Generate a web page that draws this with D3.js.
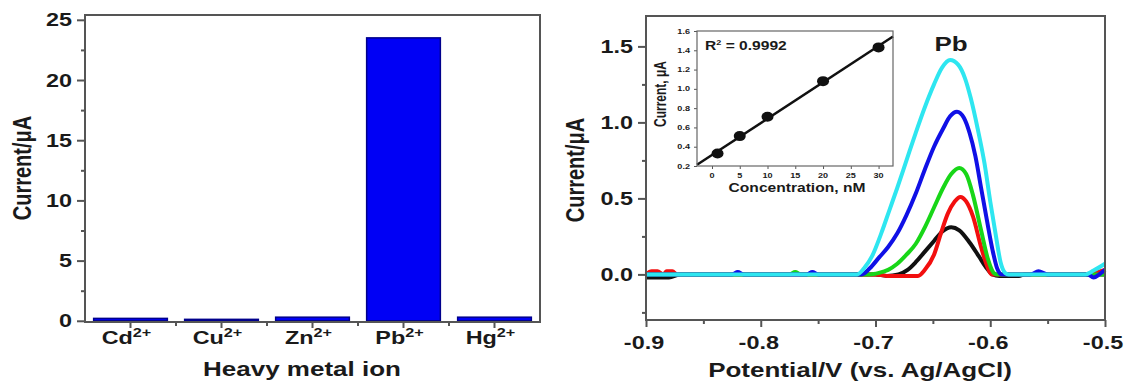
<!DOCTYPE html>
<html>
<head>
<meta charset="utf-8">
<script src="https://cdn.jsdelivr.net/npm/d3@7"></script>
<style>
body { margin: 0; background: #fff; }
svg { display: block; font-family: "Liberation Sans", Arial, sans-serif; }
</style>
</head>
<body>
<svg id="chart" width="1141" height="385"></svg>
<script>
// ---- left panel: selectivity bars
var ions = ["Cd", "Cu", "Zn", "Pb", "Hg"];
var ionCurrent = [0.2, 0.12, 0.3, 23.5, 0.3];
var barTicks = [0, 5, 10, 15, 20, 25];
var barMinor = [2.5, 7.5, 12.5, 17.5, 22.5];

// ---- right panel: DPV curves, [potential V, current uA]
var potTicks = [-0.9, -0.8, -0.7, -0.6, -0.5];
var potMinor = [-0.85, -0.75, -0.65, -0.55];
var curTicks = [0.0, 0.5, 1.0, 1.5];
var curMinor = [-0.25, 0.25, 0.75, 1.25];

var dpvBlack = [[-0.9,-0.02],[-0.88,-0.02],[-0.87,0],[-0.70,0],[-0.69,-0.01],[-0.68,0],[-0.672,0.03],[-0.665,0.08],[-0.657,0.15],[-0.649,0.22],[-0.642,0.28],[-0.634,0.31],[-0.627,0.29],[-0.618,0.21],[-0.61,0.12],[-0.604,0.05],[-0.598,0],[-0.592,-0.01],[-0.575,-0.01],[-0.57,0],[-0.5,0]];
var dpvRed = [[-0.9,0],[-0.895,0.02],[-0.89,0.02],[-0.885,0],[-0.882,0.02],[-0.877,0.02],[-0.873,0],[-0.70,0],[-0.69,-0.01],[-0.663,-0.01],[-0.657,0.03],[-0.649,0.13],[-0.643,0.27],[-0.637,0.40],[-0.631,0.48],[-0.626,0.51],[-0.621,0.48],[-0.615,0.38],[-0.608,0.18],[-0.603,0.06],[-0.599,0],[-0.52,0],[-0.51,0.01],[-0.5,0.03]];
var dpvGreen = [[-0.9,0],[-0.775,0],[-0.77,0.015],[-0.765,0],[-0.705,0],[-0.697,0.01],[-0.689,0.03],[-0.681,0.07],[-0.673,0.13],[-0.665,0.2],[-0.657,0.31],[-0.649,0.44],[-0.641,0.57],[-0.634,0.66],[-0.627,0.70],[-0.621,0.66],[-0.615,0.52],[-0.608,0.29],[-0.602,0.1],[-0.597,0.01],[-0.594,0],[-0.5,0]];
var dpvBlue = [[-0.9,0],[-0.825,0],[-0.82,0.015],[-0.815,0],[-0.76,0],[-0.755,0.015],[-0.75,0],[-0.712,0],[-0.705,0.04],[-0.697,0.11],[-0.689,0.18],[-0.681,0.27],[-0.673,0.39],[-0.665,0.53],[-0.657,0.69],[-0.649,0.84],[-0.641,0.96],[-0.635,1.04],[-0.629,1.07],[-0.623,1.03],[-0.618,0.93],[-0.613,0.78],[-0.608,0.57],[-0.603,0.36],[-0.598,0.16],[-0.594,0.04],[-0.59,0],[-0.565,0],[-0.558,0.02],[-0.55,0],[-0.515,0],[-0.51,-0.02],[-0.505,0],[-0.5,0.03]];
var dpvCyan = [[-0.9,0],[-0.716,0],[-0.71,0.04],[-0.703,0.12],[-0.695,0.27],[-0.688,0.42],[-0.681,0.57],[-0.673,0.75],[-0.665,0.93],[-0.657,1.1],[-0.649,1.25],[-0.642,1.36],[-0.635,1.41],[-0.628,1.38],[-0.622,1.29],[-0.617,1.16],[-0.611,0.96],[-0.605,0.73],[-0.6,0.48],[-0.595,0.25],[-0.591,0.08],[-0.587,0.01],[-0.584,0],[-0.517,0],[-0.51,0.025],[-0.5,0.07]];

// ---- inset: calibration
var concentration = [1, 5, 10, 20, 30];
var peakCurrent = [0.33, 0.51, 0.71, 1.08, 1.43];
var insetXTicks = [0, 5, 10, 15, 20, 25, 30];
var insetYTicks = [0.2, 0.4, 0.6, 0.8, 1.0, 1.2, 1.4, 1.6];

var SX = 1.3; // the picture is stretched sideways
var ink = "#1a1a1a", frame = "#555";

var svg = d3.select("#chart");

// text helper, stretched like the original
function stext(g, x, y, str, size, anchor, weight) {
  return g.append("text")
    .attr("transform", "translate(" + x + "," + y + ") scale(" + SX + ",1)")
    .attr("text-anchor", anchor || "middle")
    .attr("font-size", size)
    .attr("font-weight", weight || "bold")
    .attr("fill", ink)
    .text(str);
}
function vtext(g, x, y, str, size, weight) {
  return g.append("text")
    .attr("transform", "translate(" + x + "," + y + ") rotate(-90) scale(1," + SX + ")")
    .attr("text-anchor", "middle")
    .attr("font-size", size)
    .attr("font-weight", weight || "bold")
    .attr("fill", ink)
    .text(str);
}
function styleAxis(g, w) {
  g.selectAll("path").remove();
  g.selectAll("line").attr("stroke", frame).attr("stroke-width", w || 2);
}
function frameBox(g, x0, y0, x1, y1, col, w) {
  g.append("rect").attr("x", x0).attr("y", y0)
    .attr("width", x1 - x0).attr("height", y1 - y0)
    .attr("fill", "none").attr("stroke", col).attr("stroke-width", w);
}
function fmt1(t) { return t.toFixed(1); } // plain hyphen minus, like the original

// ================= left panel
var L = {x0: 85, x1: 540, y0: 15, y1: 322};
var xb = d3.scaleBand().domain(ions).range([L.x0, L.x1]).paddingInner(0.19).paddingOuter(0.095);
var yb = d3.scaleLinear().domain([-0.1, 25.4]).range([L.y1, L.y0]);

var left = svg.append("g");

left.append("g").selectAll("rect")
  .data(ions)
  .join("rect")
  .attr("x", d => xb(d))
  .attr("width", xb.bandwidth())
  .attr("y", (d, i) => yb(ionCurrent[i]))
  .attr("height", (d, i) => yb(0) - yb(ionCurrent[i]))
  .attr("fill", "#0000f5")
  .attr("stroke", "#00008c")
  .attr("stroke-width", 1.5);

var ylAx = left.append("g").attr("transform", "translate(" + L.x0 + ",0)")
  .call(d3.axisLeft(yb).tickValues(barTicks).tickSize(8).tickFormat(""));
styleAxis(ylAx);
var ylMin = left.append("g").attr("transform", "translate(" + L.x0 + ",0)")
  .call(d3.axisLeft(yb).tickValues(barMinor).tickSize(4).tickFormat(""));
styleAxis(ylMin);
barTicks.forEach(function (t) { stext(left, 72, yb(t) + 6.5, t, 18, "end"); });

var xlAx = left.append("g").attr("transform", "translate(0," + L.y1 + ")")
  .call(d3.axisBottom(xb).tickSize(6).tickFormat(""));
styleAxis(xlAx);
// small marks between the bars
var bounds = ions.slice(1).map(d => xb(d) - xb.step() * xb.paddingInner() / 2);
left.append("g").selectAll("line").data(bounds).join("line")
  .attr("x1", d => d).attr("x2", d => d)
  .attr("y1", L.y1).attr("y2", L.y1 + 4)
  .attr("stroke", frame).attr("stroke-width", 2);

ions.forEach(function (d) {
  var t = stext(left, xb(d) + xb.bandwidth() / 2 - 4, 344, "", 18, "middle");
  t.append("tspan").text(d);
  t.append("tspan").attr("dy", -7).attr("font-size", 12.5).text("2+");
});

frameBox(left, L.x0, L.y0, L.x1, L.y1, frame, 2);
stext(left, 302, 376, "Heavy metal ion", 20, "middle");
vtext(left, 31, 168, "Current/\u03bcA", 20);

// ================= right panel
var R = {x0: 646, x1: 1105, y0: 16, y1: 320};
var xp = d3.scaleLinear().domain([-0.9, -0.5]).range([R.x0, R.x1]);
var yp = d3.scaleLinear().domain([-0.3, 1.7]).range([R.y1, R.y0]);

var right = svg.append("g");

var line = d3.line()
  .x(d => xp(d[0]))
  .y(d => yp(d[1]))
  .curve(d3.curveMonotoneX);

var curves = [
  {data: dpvBlack, color: "#111111"},
  {data: dpvRed, color: "#f20f0f"},
  {data: dpvGreen, color: "#18d618"},
  {data: dpvBlue, color: "#1010e6"},
  {data: dpvCyan, color: "#2ee6f0"}
];
right.append("g").selectAll("path")
  .data(curves)
  .join("path")
  .attr("fill", "none")
  .attr("stroke", d => d.color)
  .attr("stroke-width", 4)
  .attr("stroke-linejoin", "round")
  .attr("d", d => line(d.data));

var yrAx = right.append("g").attr("transform", "translate(" + R.x0 + ",0)")
  .call(d3.axisLeft(yp).tickValues(curTicks).tickSize(8).tickFormat(""));
styleAxis(yrAx);
var yrMin = right.append("g").attr("transform", "translate(" + R.x0 + ",0)")
  .call(d3.axisLeft(yp).tickValues(curMinor).tickSize(4).tickFormat(""));
styleAxis(yrMin);
curTicks.forEach(function (t) { stext(right, 633, yp(t) + 6.5, fmt1(t), 18, "end"); });

var xrAx = right.append("g").attr("transform", "translate(0," + R.y1 + ")")
  .call(d3.axisBottom(xp).tickValues(potTicks).tickSize(7).tickFormat(""));
styleAxis(xrAx);
var xrMin = right.append("g").attr("transform", "translate(0," + R.y1 + ")")
  .call(d3.axisBottom(xp).tickValues(potMinor).tickSize(4).tickFormat(""));
styleAxis(xrMin);
potTicks.forEach(function (t) { stext(right, xp(t) - 2, 349, fmt1(t), 18, "middle"); });

frameBox(right, R.x0, R.y0, R.x1, R.y1, frame, 2);
stext(right, 860, 377, "Potential/V (vs. Ag/AgCl)", 20, "middle");
vtext(right, 584, 170, "Current/\u03bcA", 20);
stext(right, 951, 51, "Pb", 20, "middle");

// ================= inset
var I = {x0: 697, x1: 893, y0: 31, y1: 166};
var xi = d3.scaleLinear().domain([-2.7, 32.6]).range([I.x0, I.x1]);
var yi = d3.scaleLinear().domain([0.2, 1.6]).range([I.y1, I.y0]);
var inset = svg.append("g");

inset.append("rect").attr("x", I.x0).attr("y", I.y0)
  .attr("width", I.x1 - I.x0).attr("height", I.y1 - I.y0).attr("fill", "#fff");

// least squares fit through the calibration points
var mx = d3.mean(concentration), my = d3.mean(peakCurrent);
var sxy = d3.sum(concentration, (c, i) => (c - mx) * (peakCurrent[i] - my));
var sxx = d3.sum(concentration, c => (c - mx) * (c - mx));
var slope = sxy / sxx, icpt = my - slope * mx;

inset.append("line")
  .attr("x1", xi(-2.7)).attr("y1", yi(icpt + slope * -2.7))
  .attr("x2", xi(32.6)).attr("y2", yi(icpt + slope * 32.6))
  .attr("stroke", "#111").attr("stroke-width", 2.5);

inset.append("g").selectAll("ellipse")
  .data(concentration)
  .join("ellipse")
  .attr("cx", d => xi(d))
  .attr("cy", (d, i) => yi(peakCurrent[i]))
  .attr("rx", 6).attr("ry", 5)
  .attr("fill", "#111");

var yiAx = inset.append("g").attr("transform", "translate(" + I.x0 + ",0)")
  .call(d3.axisLeft(yi).tickValues(insetYTicks).tickSize(3).tickFormat(""));
styleAxis(yiAx, 1);
var xiAx = inset.append("g").attr("transform", "translate(0," + I.y1 + ")")
  .call(d3.axisBottom(xi).tickValues(insetXTicks).tickSize(3).tickFormat(""));
styleAxis(xiAx, 1);
insetYTicks.forEach(function (t) { stext(inset, 690, yi(t) + 2.5, fmt1(t), 7, "end"); });
insetXTicks.forEach(function (t) { stext(inset, xi(t), 178, t, 7, "middle"); });

frameBox(inset, I.x0, I.y0, I.x1, I.y1, "#666", 1.2);

var r2 = stext(inset, 705, 50, "", 12, "start");
r2.append("tspan").text("R");
r2.append("tspan").attr("dy", -5).attr("font-size", 7).text("2");
r2.append("tspan").attr("dy", 5).text(" = 0.9992");

stext(inset, 797, 192, "Concentration, nM", 12, "middle");
vtext(inset, 666, 94, "Current, \u03bcA", 12);
</script>
</body>
</html>
